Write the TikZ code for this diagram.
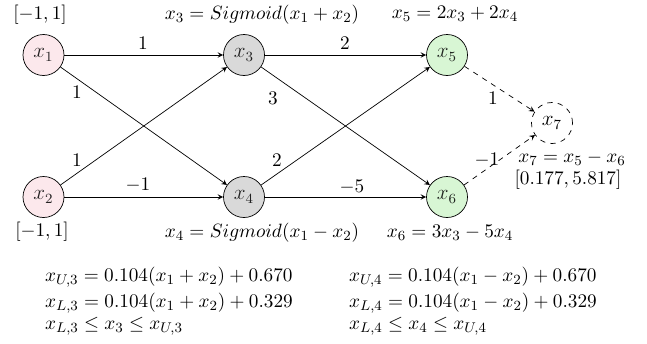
\documentclass[tikz,border=0pt]{standalone}
\usepackage{amssymb}
\usepackage{tikz}
\pgfdeclarelayer{edgelayer}
\pgfdeclarelayer{nodelayer}
\pgfsetlayers{edgelayer,nodelayer,main}
\definecolor{inpink}{RGB}{252,232,236}
\definecolor{hidgray}{RGB}{217,217,217}
\definecolor{outgreen}{RGB}{216,246,212}
\tikzstyle{vertex}=[circle, draw=black, minimum size=0.82cm, inner sep=0pt, font=\fontsize{12}{14}\selectfont, text opacity=0.85]
\tikzstyle{input}=[style=vertex, fill=inpink]
\tikzstyle{hidden}=[style=vertex, fill=hidgray]
\tikzstyle{output}=[style=vertex, fill=outgreen]
\tikzstyle{result}=[style=vertex, dashed, fill=white, text opacity=1]
\tikzstyle{lbl}=[inner sep=1pt, font=\fontsize{11}{13}\selectfont]
\tikzstyle{eq}=[style=lbl, anchor=west]
\tikzstyle{edge}=[draw=black, -stealth]
\tikzstyle{dedge}=[draw=black, -stealth, dashed]

\begin{document}
\begin{tikzpicture}
				\useasboundingbox (0, 0) rectangle (12.94, 6.86);
				\begin{pgfonlayer}{nodelayer}
					\node [style=input] (1) at (0.87, 5.76) {$x_1$};
					\node [style=input] (2) at (0.87, 2.92) {$x_2$};
					\node [style=hidden] (3) at (4.88, 5.76) {$x_3$};
					\node [style=hidden] (4) at (4.88, 2.92) {$x_4$};
					\node [style=output] (5) at (8.94, 5.76) {$x_5$};
					\node [style=output] (6) at (8.94, 2.92) {$x_6$};
					\node [style=result] (7) at (11.04, 4.40) {$x_7$};
				\end{pgfonlayer}
				% weights
				\node [style=lbl] (w13) at (2.86, 6.00) {$1$};
				\node [style=lbl] (w14) at (1.54, 5.02) {$1$};
				\node [style=lbl] (w23) at (1.54, 3.66) {$1$};
				\node [style=lbl] (w24) at (2.76, 3.16) {$-1$};
				\node [style=lbl] (w35) at (6.90, 6.00) {$2$};
				\node [style=lbl] (w36) at (5.46, 4.90) {$3$};
				\node [style=lbl] (w45) at (5.54, 3.66) {$2$};
				\node [style=lbl] (w46) at (7.04, 3.12) {$-5$};
				\node [style=lbl] (w57) at (9.86, 4.90) {$1$};
				\node [style=lbl] (w67) at (9.74, 3.66) {$-1$};
				% bounds and definitions
				\node [style=lbl] (b1) at (0.80, 6.56) {$[-1, 1]$};
				\node [style=lbl] (b2) at (0.84, 2.22) {$[-1, 1]$};
				\node [style=lbl] (d3) at (5.24, 6.56) {$x_3 = Sigmoid(x_1 + x_2)$};
				\node [style=lbl] (d4) at (5.24, 2.20) {$x_4 = Sigmoid(x_1 - x_2)$};
				\node [style=lbl] (d5) at (9.10, 6.58) {$x_5 = 2x_3 + 2x_4$};
				\node [style=lbl] (d6) at (9.00, 2.20) {$x_6 = 3x_3 - 5x_4$};
				\node [style=lbl] (d7) at (11.44, 3.70) {$x_7 = x_5 - x_6$};
				\node [style=lbl] (b7) at (11.36, 3.26) {$[0.177, 5.817]$};
				% linear relaxation
				\node [style=eq] (u3) at (0.86, 1.32) {$x_{U,3} = 0.104(x_1 + x_2) + 0.670$};
				\node [style=eq] (l3) at (0.86, 0.80) {$x_{L,3} = 0.104(x_1 + x_2) + 0.329$};
				\node [style=eq] (c3) at (0.86, 0.34) {$x_{L,3} \leq x_3 \leq x_{U,3}$};
				\node [style=eq] (u4) at (6.94, 1.32) {$x_{U,4} = 0.104(x_1 - x_2) + 0.670$};
				\node [style=eq] (l4) at (6.94, 0.80) {$x_{L,4} = 0.104(x_1 - x_2) + 0.329$};
				\node [style=eq] (c4) at (6.94, 0.34) {$x_{L,4} \leq x_4 \leq x_{U,4}$};
				\begin{pgfonlayer}{edgelayer}
					\draw [style=edge] (1) to (3);
					\draw [style=edge] (1) to (4);
					\draw [style=edge] (2) to (3);
					\draw [style=edge] (2) to (4);
					\draw [style=edge] (3) to (5);
					\draw [style=edge] (3) to (6);
					\draw [style=edge] (4) to (5);
					\draw [style=edge] (4) to (6);
					\draw [style=dedge] (5) to (7);
					\draw [style=dedge] (6) to (7);
				\end{pgfonlayer}
			\end{tikzpicture}
\end{document}
